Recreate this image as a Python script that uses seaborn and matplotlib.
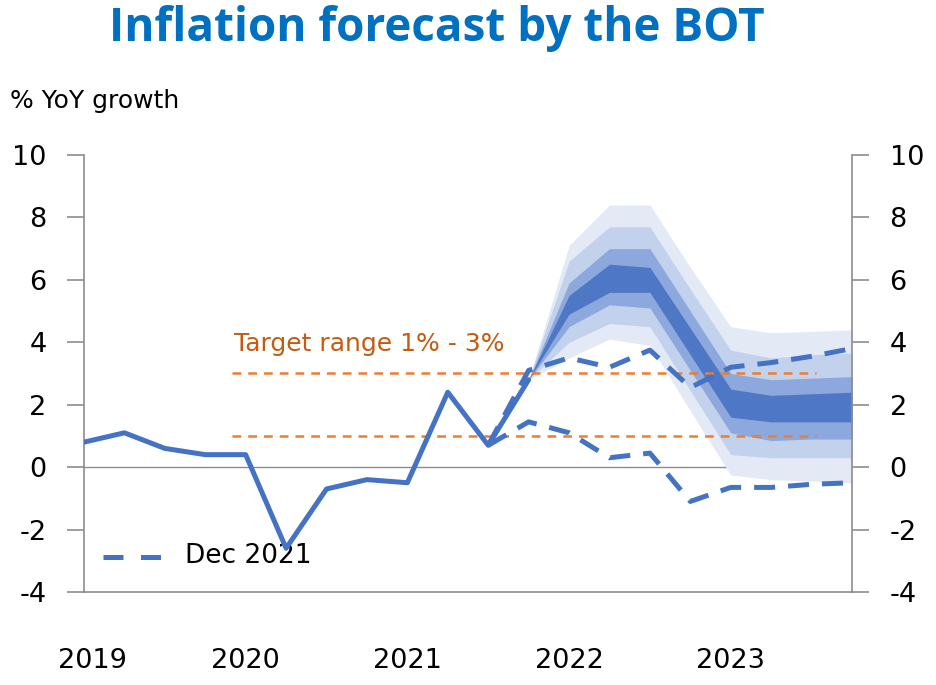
import numpy as np
import pandas as pd
import matplotlib
matplotlib.use("Agg")
import matplotlib.pyplot as plt
import seaborn as sns

# quarters 2019Q1 .. 2023Q4 -> index 0..19
quarters = list(range(20))
years = ["2019", "2020", "2021", "2022", "2023"]
year_pos = [0.2, 4, 8, 12, 16]

actual_idx = list(range(12))
actual = [0.8, 1.1, 0.6, 0.4, 0.4, -2.6, -0.7, -0.4, -0.5, 2.4, 0.7, 2.8]

fan_idx = [11, 12, 13, 14, 15, 16, 17, 18, 19]
# band edges, outer to inner (upper), then inner to outer (lower)
up90 = [2.8, 7.1, 8.4, 8.4, 6.4, 4.5, 4.3, 4.35, 4.4]
up70 = [2.8, 6.6, 7.7, 7.7, 5.7, 3.75, 3.5, 3.6, 3.65]
up50 = [2.8, 5.9, 7.0, 7.0, 5.0, 3.0, 2.8, 2.85, 2.9]
up30 = [2.8, 5.5, 6.5, 6.4, 4.45, 2.5, 2.3, 2.35, 2.4]
lo30 = [2.8, 4.9, 5.6, 5.6, 3.6, 1.6, 1.45, 1.45, 1.45]
lo50 = [2.8, 4.5, 5.2, 5.1, 3.1, 1.1, 0.85, 0.9, 0.9]
lo70 = [2.8, 4.0, 4.6, 4.5, 2.45, 0.4, 0.3, 0.3, 0.3]
lo90 = [2.8, 3.5, 4.1, 3.9, 1.8, -0.25, -0.4, -0.45, -0.5]

dec_idx = [10, 11, 12, 13, 14, 15, 16, 17, 18, 19]
dec_upper = [0.7, 3.1, 3.5, 3.2, 3.75, 2.55, 3.2, 3.35, 3.55, 3.8]
dec_lower = [0.7, 1.45, 1.1, 0.3, 0.45, -1.1, -0.65, -0.65, -0.55, -0.5]

target_low, target_high = 1, 3
target_span = [3.65, 18.1]

blue = "#4472C4"
band_colors = ["#E3EAF6", "#C3D2EC", "#8CA8DC", "#4E78C6"]
orange = "#ED7D31"

sns.set_style("white")
plt.rcParams["font.family"] = ["DejaVu Sans"]
plt.rcParams["axes.unicode_minus"] = False

fig = plt.figure(figsize=(9.36, 6.85), dpi=100)
ax = fig.add_axes([0.0897, 0.1358, 0.8206, 0.6379])

uppers = [up90, up70, up50, up30]
lowers = [lo90, lo70, lo50, lo30]
for u, l, c in zip(uppers, lowers, band_colors):
    ax.fill_between(fan_idx, l, u, color=c, linewidth=0, zorder=1)

ax.axhline(0, color="#8c8c8c", lw=1.0, zorder=0)

for yv in [target_low, target_high]:
    ax.plot(target_span, [yv, yv], color=orange, lw=1.8, ls=(0, (3.5, 2.8)), zorder=2)

df_act = pd.DataFrame({"q": actual_idx, "v": actual})
sns.lineplot(data=df_act, x="q", y="v", ax=ax, color=blue, lw=3.6, zorder=4)

df_up = pd.DataFrame({"q": dec_idx, "v": dec_upper})
df_lo = pd.DataFrame({"q": dec_idx, "v": dec_lower})
dash = (0, (4.2, 2.6))
sns.lineplot(data=df_up, x="q", y="v", ax=ax, color=blue, lw=3.6, linestyle=dash, zorder=3)
sns.lineplot(data=df_lo, x="q", y="v", ax=ax, color=blue, lw=3.6, linestyle=dash, zorder=3)

ax.text(3.7, 3.55, "Target range 1% - 3%", color="#C55A11", fontsize=18, va="bottom", ha="left")

# legend, drawn by hand as in the source
ax.plot([0.48, 1.98], [-2.87, -2.87], color=blue, lw=3.6, linestyle=(0, (4.0, 3.5)))
ax.text(2.5, -2.85, "Dec 2021", fontsize=19, va="center", ha="left", color="black")

ax.set_xlim(0, 19)
ax.set_ylim(-4, 10)
ax.set_yticks(range(-4, 11, 2))
ax.set_xticks(quarters)
ax.set_xticklabels([])
ax.set_xlabel("")
ax.set_ylabel("")

for s in ["left", "right", "bottom", "top"]:
    ax.spines[s].set_visible(True)
    ax.spines[s].set_color("#8c8c8c")
    ax.spines[s].set_linewidth(1.2)
ax.spines["top"].set_visible(False)

ax.tick_params(axis="y", which="both", left=True, right=True, labelleft=True, labelright=True,
               direction="out", length=12, width=1.2, color="#8c8c8c", labelsize=19.5,
               pad=15, labelcolor="black")
ax.tick_params(axis="x", direction="out", length=12, width=1.2, color="#8c8c8c")

for yr, p in zip(years, year_pos):
    ax.text(p, -6.2, yr, fontsize=19.5, ha="center", va="center", color="black")

fig.text(0.011, 0.853, "% YoY growth", fontsize=18, ha="left", va="center", color="black")
fig.text(0.467, 0.959, "Inflation forecast by the BOT", fontsize=33, fontweight="bold",
         color="#0070C0", ha="center", va="center", family="Open Sans")

fig.savefig("out.png", dpi=100)
